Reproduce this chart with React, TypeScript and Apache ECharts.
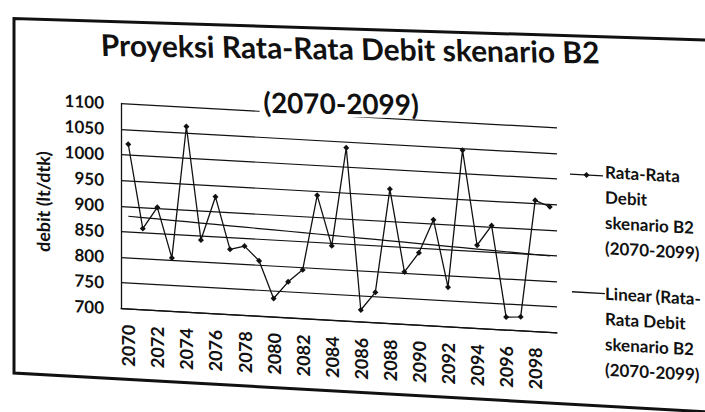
import React, { useEffect, useRef } from "react";
import * as echarts from "echarts";

const years = [
  "2070", "2071", "2072", "2073", "2074", "2075", "2076", "2077", "2078", "2079",
  "2080", "2081", "2082", "2083", "2084", "2085", "2086", "2087", "2088", "2089",
  "2090", "2091", "2092", "2093", "2094", "2095", "2096", "2097", "2098", "2099",
];
const debit = [
  1021, 858, 901, 804, 1062, 842, 928, 827, 835, 808,
  736, 770, 795, 942, 845, 1038, 723, 759, 962, 802,
  841, 907, 777, 1046, 862, 902, 725, 727, 956, 945,
];
const yMin = 700;
const yMax = 1100;
const yStep = 50;

const seriesName = "Rata-Rata Debit skenario B2 (2070-2099)";
const trendName = "Linear (Rata-Rata Debit skenario B2 (2070-2099))";
const titleLine1 = "Proyeksi Rata-Rata Debit skenario B2";
const titleLine2 = "(2070-2099)";
const legendLines1 = ["Rata-Rata", "Debit", "skenario B2", "(2070-2099)"];
const legendLines2 = ["Linear (Rata-", "Rata Debit", "skenario B2", "(2070-2099)"];
const yAxisName = "debit (lt/dtk)";

function linearTrend(v: number[]): number[] {
  const n = v.length;
  let sx = 0, sy = 0, sxx = 0, sxy = 0;
  for (let i = 0; i < n; i++) {
    const x = i + 1;
    sx += x; sy += v[i]; sxx += x * x; sxy += x * v[i];
  }
  const b = (n * sxy - sx * sy) / (n * sxx - sx * sx);
  const a = (sy - b * sx) / n;
  return v.map((_, i) => +(a + b * (i + 1)).toFixed(2));
}

const FONT = 'Lato, "DejaVu Sans", sans-serif';
const INK = "#111";

export default function App() {
  const ref = useRef<HTMLDivElement>(null);
  useEffect(() => {
    if (!ref.current) return;
    const chart = echarts.init(ref.current, null, { renderer: "svg" });
    const trend = linearTrend(debit);
    const rot = 0.041;
    chart.setOption({
      animation: false,
      backgroundColor: "#fff",
      legend: { show: false },
      grid: { left: 121, top: 103.3, width: 436, height: 205, containLabel: false },
      xAxis: {
        type: "category",
        data: years,
        boundaryGap: true,
        axisLine: { show: true, lineStyle: { color: INK, width: 1.3 } },
        axisTick: { show: false },
        axisLabel: {
          interval: 1,
          rotate: 90,
          margin: 16,
          color: INK,
          fontFamily: FONT,
          fontWeight: "bold",
          fontSize: 18,
        },
        splitLine: { show: false },
      },
      yAxis: {
        type: "value",
        min: yMin,
        max: yMax,
        interval: yStep,
        name: yAxisName,
        nameLocation: "middle",
        nameGap: 69,
        nameRotate: 90,
        nameTextStyle: { color: INK, fontFamily: FONT, fontWeight: "bold", fontSize: 18 },
        axisLine: { show: true, lineStyle: { color: INK, width: 1.3 } },
        axisTick: { show: false },
        axisLabel: {
          margin: 17,
          color: INK,
          fontFamily: FONT,
          fontWeight: "bold",
          fontSize: 17,
          formatter: (v: number) => String(v),
        },
        splitLine: { show: true, lineStyle: { color: INK, width: 1.2 } },
      },
      series: [
        {
          name: seriesName,
          type: "line",
          data: debit,
          symbol: "diamond",
          symbolSize: 6,
          lineStyle: { color: INK, width: 1.3 },
          itemStyle: { color: INK },
          z: 3,
        },
        {
          name: trendName,
          type: "line",
          data: trend,
          symbol: "none",
          lineStyle: { color: INK, width: 1.2 },
          z: 2,
        },
      ],
      graphic: [
        {
          type: "polyline",
          shape: { points: [[705, 7.2], [14, 24.5], [14, 379], [705, 379]] },
          style: { stroke: INK, lineWidth: 3, fill: null },
          z: 50,
        },
        {
          type: "text",
          x: 350,
          y: 34.9,
          rotation: rot,
          z: 100,
          style: {
            text: titleLine1,
            fontSize: 30,
            fontWeight: "bold",
            fontFamily: FONT,
            fill: INK,
            align: "center",
            verticalAlign: "middle",
          },
        },
        {
          type: "text",
          x: 341,
          y: 90.6,
          rotation: rot,
          z: 100,
          style: {
            text: titleLine2,
            fontSize: 28,
            fontWeight: "bold",
            fontFamily: FONT,
            fill: INK,
            align: "center",
            verticalAlign: "middle",
            backgroundColor: "#fff",
            padding: [0, 4],
          },
        },
        {
          type: "line",
          shape: { x1: 570, y1: 148.9, x2: 603, y2: 148.9 },
          style: { stroke: INK, lineWidth: 1.3 },
          z: 100,
        },
        {
          type: "polygon",
          shape: { points: [[586.5, 145.9], [589.5, 148.9], [586.5, 151.9], [583.5, 148.9]] },
          style: { fill: INK },
          z: 100,
        },
        {
          type: "text",
          x: 605,
          y: 132,
          z: 100,
          style: {
            text: legendLines1.join("\n"),
            fontSize: 17,
            lineHeight: 25.3,
            fontWeight: "bold",
            fontFamily: FONT,
            fill: INK,
            align: "left",
            verticalAlign: "top",
          },
        },
        {
          type: "line",
          shape: { x1: 572, y1: 266.5, x2: 605, y2: 266.5 },
          style: { stroke: INK, lineWidth: 1.3 },
          z: 100,
        },
        {
          type: "text",
          x: 605,
          y: 253.5,
          z: 100,
          style: {
            text: legendLines2.join("\n"),
            fontSize: 17,
            lineHeight: 25.3,
            fontWeight: "bold",
            fontFamily: FONT,
            fill: INK,
            align: "left",
            verticalAlign: "top",
          },
        },
      ],
    });
    return () => chart.dispose();
  }, []);
  return (
    <div
      ref={ref}
      style={{
        position: "absolute",
        left: 0,
        top: 0,
        width: 705,
        height: 412,
        transform: "skewY(3.2deg)",
        transformOrigin: "120px 103px",
      }}
    />
  );
}
